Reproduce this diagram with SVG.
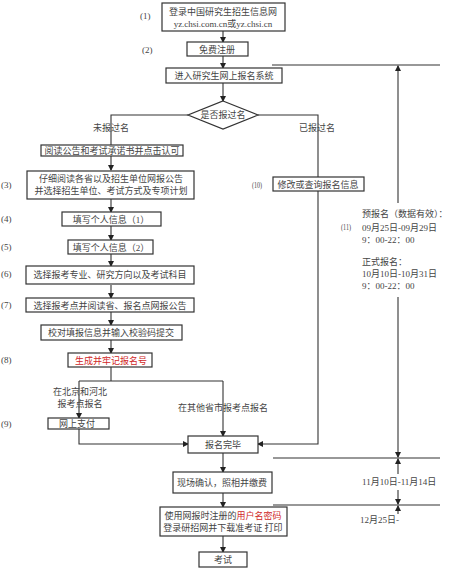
<svg xmlns="http://www.w3.org/2000/svg" width="450" height="568" viewBox="0 0 450 568">
<defs>
<marker id="ah" markerWidth="6" markerHeight="6" refX="5" refY="3" orient="auto" markerUnits="userSpaceOnUse">
<path d="M0,0 L6,3 L0,6 Z" fill="#222"/>
</marker>
<style>
.b{fill:#fff;stroke:#333;stroke-width:1.2}
.t{font-family:"Liberation Serif","Noto Sans CJK SC",serif;font-size:9px;fill:#444;text-anchor:middle}
.l{font-family:"Liberation Serif","Noto Sans CJK SC",serif;font-size:9px;fill:#444}
.r{fill:#d02828}
.c{fill:none;stroke:#333;stroke-width:1.1}
.a{marker-end:url(#ah)}
</style>
</defs>
<rect width="450" height="568" fill="#fff"/>
<g id="connectors">
<path class="c a" d="M223,31V42"/>
<path class="c a" d="M223,56V68"/>
<path class="c a" d="M223,83V101"/>
<path class="c" d="M188,115H111V145"/>
<path class="c a" d="M111,156V170"/>
<path class="c a" d="M111,199V212"/>
<path class="c a" d="M111,226V240"/>
<path class="c a" d="M111,254V266"/>
<path class="c a" d="M111,285V298"/>
<path class="c a" d="M111,312V325"/>
<path class="c a" d="M111,340V353"/>
<path class="c" d="M111,367V381"/>
<path class="c" d="M79,381H223"/>
<path class="c a" d="M79,381V418"/>
<path class="c a" d="M223,381V436"/>
<path class="c a" d="M79,429V444H188"/>
<path class="c" d="M258,115H318V177"/>
<path class="c a" d="M318,191V444H258"/>
<path class="c a" d="M223,453V472"/>
<path class="c a" d="M223,493V507"/>
<path class="c a" d="M223,536V552"/>
<path class="c" d="M272,65H440"/>
<path class="c a" d="M398,203V66"/>
<path class="c a" d="M398,297V457"/>
<path class="c" d="M273,458H440"/>
<path class="c a" d="M398,474V459"/>
<path class="c a" d="M398,490V504"/>
<path class="c" d="M273,505H440"/>
<path class="c a" d="M398,514V506"/>
</g>
<g id="n1"><rect class="b" x="162" y="3" width="123" height="28"/><text class="t" x="223" y="15">登录中国研究生招生信息网</text><text class="t" x="223" y="27">yz.chsi.com.cn或yz.chsi.cn</text><text class="l" x="140" y="19">(1)</text></g>
<g id="n2"><rect class="b" x="187" y="42" width="61" height="14"/><text class="t" x="217" y="52.5">免费注册</text><text class="l" x="142" y="53">(2)</text></g>
<g id="n3"><rect class="b" x="166" y="68" width="116" height="15"/><text class="t" x="224" y="79">进入研究生网上报名系统</text></g>
<g id="n4"><path class="b" d="M223,101L258,115L223,129L188,115Z"/><text class="t" x="223" y="118">是否报过名</text></g>
<text class="t" x="111" y="131">未报过名</text>
<text class="t" x="317" y="131">已报过名</text>
<g id="n5"><rect class="b" x="41" y="145" width="142" height="11"/><text class="t" x="112" y="154">阅读公告和考试承诺书并点击认可</text></g>
<g id="n6"><rect class="b" x="27" y="171" width="167" height="28"/><text class="t" x="111" y="182">仔细阅读各省以及招生单位网报公告</text><text class="t" x="111" y="194">并选择招生单位、考试方式及专项计划</text><text class="l" x="1" y="188">(3)</text></g>
<g id="n7"><rect class="b" x="62" y="212" width="99" height="14"/><text class="t" x="111" y="222.5">填写个人信息（1）</text><text class="l" x="1" y="222">(4)</text></g>
<g id="n8"><rect class="b" x="68" y="240" width="85" height="14"/><text class="t" x="111" y="250.5">填写个人信息（2）</text><text class="l" x="1" y="250">(5)</text></g>
<g id="n9"><rect class="b" x="26" y="266" width="168" height="18"/><text class="t" x="110" y="278">选择报考专业、研究方向以及考试科目</text><text class="l" x="1" y="277">(6)</text></g>
<g id="n10"><rect class="b" x="26" y="298" width="168" height="14"/><text class="t" x="110" y="308.5">选择报考点并阅读省、报名点网报公告</text><text class="l" x="1" y="308">(7)</text></g>
<g id="n11"><rect class="b" x="41" y="325" width="141" height="15"/><text class="t" x="111" y="336">校对填报信息并输入校验码提交</text></g>
<g id="n12"><rect class="b" x="68" y="353" width="84" height="14"/><text class="t r" x="111" y="363.5">生成并牢记报名号</text><text class="l" x="1" y="363">(8)</text></g>
<text class="t" x="80" y="395">在北京和河北</text>
<text class="t" x="80" y="407">报考点报名</text>
<text class="t" x="223" y="411">在其他省市报考点报名</text>
<g id="n13"><rect class="b" x="48" y="418" width="61" height="11"/><text class="t" x="77" y="427">网上支付</text><text class="l" x="1" y="427">(9)</text></g>
<g id="n14"><rect class="b" x="273" y="177" width="91" height="14"/><text class="t" x="318" y="187.5">修改或查询报名信息</text><text class="l" x="252" y="188" textLength="10" lengthAdjust="spacingAndGlyphs">(10)</text></g>
<g id="n15"><rect class="b" x="188" y="436" width="70" height="17"/><text class="t" x="223" y="447.5">报名完毕</text></g>
<g id="n16"><rect class="b" x="173" y="472" width="99" height="21"/><text class="t" x="222" y="485.5">现场确认，照相并缴费</text></g>
<g id="n17"><rect class="b" x="160" y="507" width="127" height="29"/><text class="t" x="223" y="519">使用网报时注册的<tspan class="r">用户名密码</tspan></text><text class="t" x="223" y="531">登录研招网并下载准考证 打印</text></g>
<g id="n18"><rect class="b" x="199" y="552" width="48" height="15"/><text class="t" x="223" y="563">考试</text></g>
<g id="timeline">
<text class="l" x="341" y="230" textLength="10" lengthAdjust="spacingAndGlyphs">(11)</text>
<text class="l" x="362" y="217">预报名（数据有效）：</text>
<text class="l" x="362" y="231">09月25日-09月29日</text>
<text class="l" x="362" y="243">9：00-22：00</text>
<text class="l" x="362" y="265">正式报名：</text>
<text class="l" x="362" y="277">10月10日-10月31日</text>
<text class="l" x="362" y="289">9：00-22：00</text>
<text class="l" x="362" y="485">11月10日-11月14日</text>
<text class="l" x="360" y="523">12月25日-</text>
</g>
</svg>
